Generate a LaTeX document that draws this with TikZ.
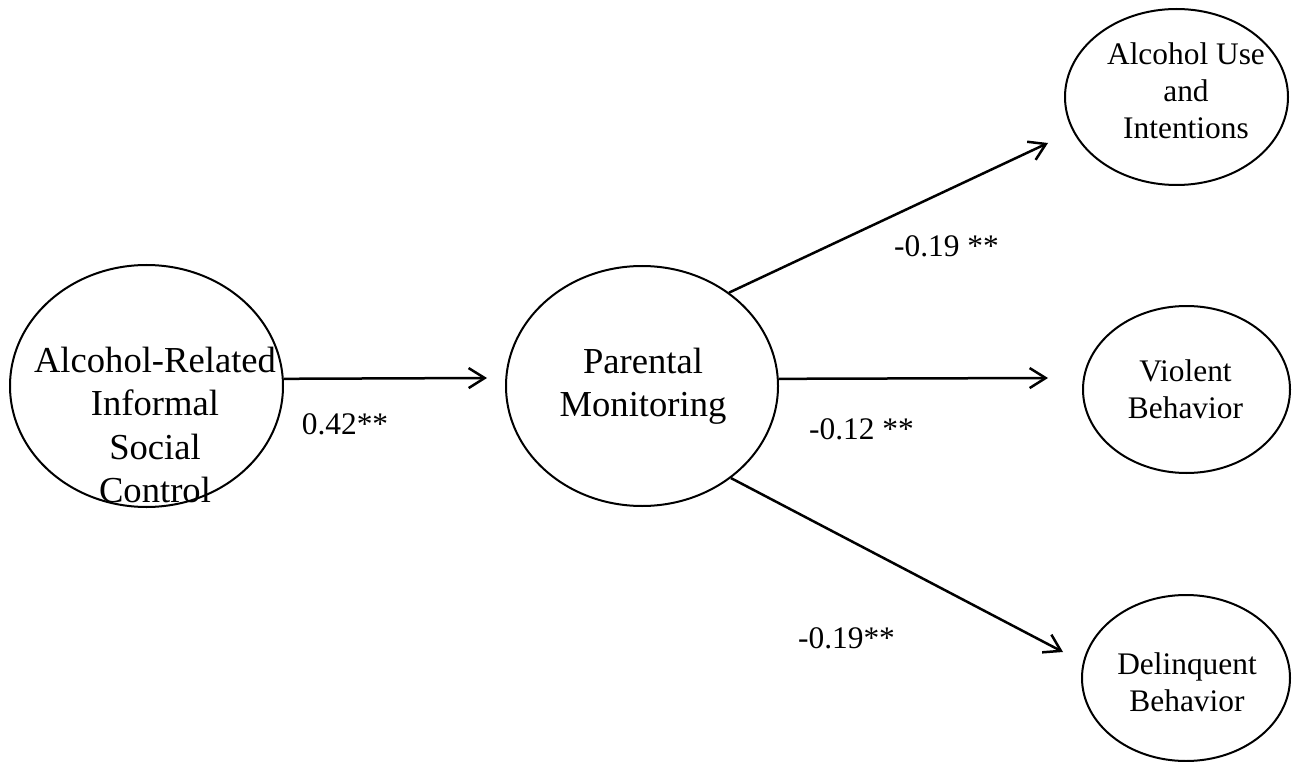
\documentclass[tikz,border=0pt]{standalone}
\usepackage{fontspec}
\setmainfont{Liberation Serif}
\usetikzlibrary{shapes.geometric,arrows.meta}
\begin{document}
\begin{tikzpicture}[x=1pt,y=-1pt,
  latent/.style={draw, ellipse, line width=2pt, inner sep=0pt},
  bigtext/.style={font=\fontsize{36.6pt}{43.5pt}\selectfont, align=center, inner sep=0pt},
  smalltext/.style={font=\fontsize{31.4pt}{37pt}\selectfont, align=center, inner sep=0pt},
  coef/.style={font=\fontsize{31.4pt}{37pt}\selectfont, inner sep=0pt, anchor=base},
  link/.style={line width=2.5pt, -{Straight Barb[length=16pt,width=20pt,line width=2.5pt]}}
]
\useasboundingbox (0,0) rectangle (1296,762);

% latent variables
\node[latent, minimum width=273pt, minimum height=242pt] (isc) at (146.5,386) {};
\node[latent, minimum width=272pt, minimum height=240pt] (pm)  at (642,386) {};
\node[latent, minimum width=223pt, minimum height=176pt] (alc) at (1176.5,97) {};
\node[latent, minimum width=207pt, minimum height=167pt] (vio) at (1186.5,389.5) {};
\node[latent, minimum width=208pt, minimum height=166pt] (del) at (1186,678) {};

% labels inside the ellipses
\node[bigtext] (iscT) at (155,425) {Alcohol-Related\\Informal\\Social\\Control};
\node[bigtext] (pmT) at (643,386.5) {Parental\\Monitoring};
\node[smalltext] (alcT) at (1186,91) {Alcohol Use\\and\\Intentions};
\node[smalltext] (vioT) at (1185.5,389.3) {Violent\\Behavior};
\node[smalltext] (delT) at (1187,682) {Delinquent\\Behavior};

% arrow tips
\coordinate (tipP) at (487,378);
\coordinate (tipA) at (1048,143);
\coordinate (tipV) at (1048,378);
\coordinate (tipD) at (1063,652);

% paths
\draw[link] (isc.3.6) -- (tipP);
\draw[link] (pm.47.5) -- (tipA);
\draw[link] (pm.3.4) -- (tipV);
\draw[link] (pm.-46.6) -- (tipD);

% path coefficients
\node[coef] (c1) at (345,434) {0.42**};
\node[coef] (c2) at (946.5,257) {-0.19 **};
\node[coef] (c3) at (861.5,439) {-0.12 **};
\node[coef] (c4) at (846.5,648) {-0.19**};
\end{tikzpicture}
\end{document}
